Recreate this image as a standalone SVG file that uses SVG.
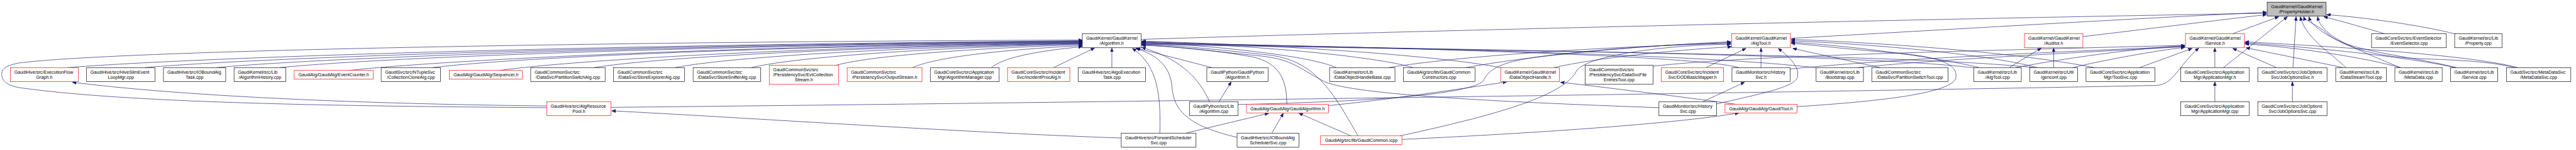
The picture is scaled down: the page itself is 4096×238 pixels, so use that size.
<svg xmlns="http://www.w3.org/2000/svg" width="4096" height="238" viewBox="0 0 4096 238">
<style>
.n rect{fill:#fff;stroke:#000;stroke-width:1.2}
.r rect{stroke:#f00}
.g rect{fill:#bfbfbf}
text{font-family:"Liberation Sans",Arial,Helvetica,sans-serif;font-size:13px;fill:#000}
.c{text-anchor:middle}
.e path{fill:none;stroke:#191970;stroke-width:1.2;marker-end:url(#a)}
</style>
<defs>
<marker id="a" markerUnits="userSpaceOnUse" markerWidth="12" markerHeight="10" refX="11" refY="4.5" orient="auto"><path d="M0,0 L11,4.5 L0,9 z" fill="#191970" stroke="#191970" stroke-width="1"/></marker>
</defs>
<rect width="4096" height="238" fill="#fff"/>
<g transform="scale(0.553)">
<g id="edges" class="e">
<path d="M194,194 C544,166 1653,129 3112,117"/>
<path d="M415,194 C739,166 1764,130 3112,118"/>
<path d="M622,194 C921,166 1867,131 3112,119"/>
<path d="M804,194 C1081,166 1958,132 3112,120"/>
<path d="M1005,202 C1258,174 2058,133 3112,121"/>
<path d="M1244,194 C1468,166 2178,134 3112,122"/>
<path d="M1437,202 C1638,174 2274,135 3112,123"/>
<path d="M1708,194 C1876,166 2410,136 3112,124"/>
<path d="M1941,194 C2082,166 2526,137 3112,125"/>
<path d="M2160,194 C2274,166 2636,138 3112,126"/>
<path d="M2405,187 C2495,162 2761,140 3112,128"/>
<path d="M2624,194 C2683,166 2868,143 3112,131"/>
<path d="M2851,194 C2882,166 2981,146 3112,134"/>
<path d="M3029,194 L3147,138"/>
<path d="M1572,309 C1100,305 400,300 60,252 C10,245 5,225 5,213 C5,198 15,187 60,180 C400,140 2000,118 3112,115"/>
<path d="M1572,304 C1200,300 600,285 208,236"/>
<path d="M3224,396 C2800,382 2100,335 1759,318"/>
<path d="M1757,308 C3000,296 5400,262 6200,245 C6250,243 6262,190 6322,138"/>
<path d="M3197,194 L3197,138"/>
<path d="M3485,194 L3268,138"/>
<path d="M3505,292 L3540,235"/>
<path d="M3478,292 C3450,230 3400,170 3283,136"/>
<path d="M3335,382 C3337,290 3335,190 3256,139"/>
<path d="M3557,394 C3420,362 3375,320 3370,250 C3365,185 3320,155 3266,139"/>
<path d="M3410,382 L3648,325"/>
<path d="M3657,382 L3690,325"/>
<path d="M3885,390 L3735,325"/>
<path d="M3700,299 C3700,230 3680,180 3600,163 C3500,145 3380,133 3283,130"/>
<path d="M3905,390 C3840,280 3790,175 3650,158 C3500,142 3380,130 3283,126"/>
<path d="M4770,309 C4300,292 3900,272 3810,235 C3740,200 3720,170 3620,160 C3480,146 3380,134 3283,128"/>
<path d="M3842,194 C3780,165 3550,135 3283,121"/>
<path d="M4063,194 C3950,160 3600,130 3283,119"/>
<path d="M4325,196 C4150,160 3700,130 3283,118"/>
<path d="M5000,194 C4900,165 4300,142 3283,122"/>
<path d="M5226,195 C4950,162 4300,142 3283,123"/>
<path d="M5688,196 C5400,160 4600,148 3283,125"/>
<path d="M5850,194 C5500,158 4600,150 3283,127"/>
<path d="M3992,194 C4200,160 4600,135 4977,124"/>
<path d="M4215,194 C4400,160 4700,132 4977,120"/>
<path d="M4467,194 C4600,165 4800,145 4979,134"/>
<path d="M4025,390 C4300,330 4480,280 4530,210 C4540,160 4800,128 4977,127"/>
<path d="M3560,300 C3900,292 4220,275 4265,232 C4280,200 4310,178 4430,162 C4600,140 4800,128 4977,122"/>
<path d="M3820,303 C4000,285 4200,255 4332,235"/>
<path d="M4990,299 C4870,282 4650,255 4487,236"/>
<path d="M4031,400 C4400,383 4820,355 5000,324"/>
<path d="M4936,298 C5060,270 5160,250 5168,222 C5176,190 5140,160 5113,139"/>
<path d="M4896,292 L5016,236"/>
<path d="M5063.5,194 L5063.5,138"/>
<path d="M4905,194 L5020,139"/>
<path d="M5406,194 L5155,139"/>
<path d="M5167,306 C5420,290 5630,265 5624,218 C5628,178 5550,160 5450,152 C5300,140 5200,128 5150,124"/>
<path d="M5692,194 C5550,160 5300,130 5150,121"/>
<path d="M5858,194 C5700,152 5350,125 5150,117"/>
<path d="M6022,194 C5800,150 5400,122 5150,113"/>
<path d="M5777,194 L5869,138"/>
<path d="M5905,194 L5905,138"/>
<path d="M5795,194 C5950,165 6150,138 6282,131"/>
<path d="M5960,194 C6050,172 6200,145 6282,136"/>
<path d="M5147,198 C5450,168 5900,150 6282,133"/>
<path d="M5340,194 C5600,168 6000,150 6282,134"/>
<path d="M4753,190 C5000,162 5500,150 6282,130"/>
<path d="M6152,194 L6303,139"/>
<path d="M6368.5,194 L6368.5,138"/>
<path d="M6546,194 L6420,139"/>
<path d="M6738,194 L6458,137"/>
<path d="M6902,194 C6800,165 6600,135 6455,126"/>
<path d="M7062,194 C6900,160 6650,136 6455,123"/>
<path d="M7240,194 C7100,158 6750,136 6455,120"/>
<path d="M3281,113 C4000,90 5500,55 6517,38"/>
<path d="M5148,110 C5600,85 6100,55 6517,35"/>
<path d="M5989,105 C6200,80 6400,55 6517,42"/>
<path d="M6419,97 L6552,48"/>
<path d="M6393,194 L6577,48"/>
<path d="M6593,194 L6602,48"/>
<path d="M6745,194 C6700,150 6630,110 6614,48"/>
<path d="M6902,194 C6820,160 6720,120 6690,90 C6670,70 6666,60 6664,48"/>
<path d="M7063,194 C6950,165 6790,150 6720,115 C6670,90 6645,70 6639,48"/>
<path d="M7232,194 C7150,174 7050,172 6950,168 C6820,162 6730,130 6690,95 C6665,72 6628,60 6624,48"/>
<path d="M6857,97 C6800,80 6730,60 6682,48"/>
<path d="M7062,98 C6960,72 6800,50 6690,42"/>
<path d="M6368.5,292 L6368.5,235"/>
<path d="M6591.5,292 L6591.5,235"/>
</g>
<g id="n_ph" class="n g"><rect x="6519" y="6" width="169" height="40"/><text x="6530" y="23">GaudiKernel/GaudiKernel</text><text class="c" x="6603.5" y="38">/PropertyHolder.h</text></g>
<g id="n_alg" class="n"><rect x="3112" y="97" width="169" height="40"/><text x="3123" y="114">GaudiKernel/GaudiKernel</text><text class="c" x="3196.5" y="129">/Algorithm.h</text></g>
<g id="n_algtool" class="n r"><rect x="4979" y="97" width="169" height="40"/><text x="4990" y="114">GaudiKernel/GaudiKernel</text><text class="c" x="5063.5" y="129">/AlgTool.h</text></g>
<g id="n_auditor" class="n r"><rect x="5821" y="97" width="168" height="40"/><text x="5832" y="114">GaudiKernel/GaudiKernel</text><text class="c" x="5905" y="129">/Auditor.h</text></g>
<g id="n_service" class="n r"><rect x="6284" y="97" width="169" height="40"/><text x="6295" y="114">GaudiKernel/GaudiKernel</text><text class="c" x="6368.5" y="129">/Service.h</text></g>
<g id="n_evsel" class="n"><rect x="6819" y="97" width="215" height="40"/><text x="6830" y="114">GaudiCoreSvc/src/EventSelector</text><text class="c" x="6926.5" y="129">/EventSelector.cpp</text></g>
<g id="n_prop" class="n"><rect x="7058" y="97" width="136" height="40"/><text x="7069" y="114">GaudiKernel/src/Lib</text><text class="c" x="7126" y="129">/Property.cpp</text></g>
<g id="n_efg" class="n r"><rect x="30" y="194" width="195" height="40"/><text x="41" y="211">GaudiHive/src/ExecutionFlow</text><text class="c" x="127.5" y="226">Graph.h</text></g>
<g id="n_hiveslim" class="n"><rect x="249" y="194" width="197" height="40"/><text x="260" y="211">GaudiHive/src/HiveSlimEvent</text><text class="c" x="347.5" y="226">LoopMgr.cpp</text></g>
<g id="n_iobtask" class="n"><rect x="470" y="194" width="179" height="40"/><text x="481" y="211">GaudiHive/src/IOBoundAlg</text><text class="c" x="559.5" y="226">Task.cpp</text></g>
<g id="n_alghist" class="n"><rect x="673" y="194" width="149" height="40"/><text x="684" y="211">GaudiKernel/src/Lib</text><text class="c" x="747.5" y="226">/AlgorithmHistory.cpp</text></g>
<g id="n_evcount" class="n r"><rect x="846" y="202" width="227" height="25"/><text class="c" x="959.5" y="219">GaudiAlg/GaudiAlg/EventCounter.h</text></g>
<g id="n_collclone" class="n"><rect x="1096" y="194" width="171" height="40"/><text x="1107" y="211">GaudiSvc/src/NTupleSvc</text><text class="c" x="1181.5" y="226">/CollectionCloneAlg.cpp</text></g>
<g id="n_sequencer" class="n r"><rect x="1292" y="202" width="210" height="25"/><text class="c" x="1397" y="219">GaudiAlg/GaudiAlg/Sequencer.h</text></g>
<g id="n_psalg" class="n"><rect x="1526" y="194" width="214" height="40"/><text x="1537" y="211">GaudiCommonSvc/src</text><text class="c" x="1633" y="226">/DataSvc/PartitionSwitchAlg.cpp</text></g>
<g id="n_sealg" class="n"><rect x="1764" y="194" width="204" height="40"/><text x="1775" y="211">GaudiCommonSvc/src</text><text class="c" x="1866" y="226">/DataSvc/StoreExplorerAlg.cpp</text></g>
<g id="n_ssalg" class="n"><rect x="1993" y="194" width="194" height="40"/><text x="2004" y="211">GaudiCommonSvc/src</text><text class="c" x="2090" y="226">/DataSvc/StoreSnifferAlg.cpp</text></g>
<g id="n_evtcoll" class="n r"><rect x="2212" y="187" width="199" height="55"/><text x="2223" y="204">GaudiCommonSvc/src</text><text x="2223" y="219">/PersistencySvc/EvtCollection</text><text class="c" x="2311.5" y="234">Stream.h</text></g>
<g id="n_outstream" class="n r"><rect x="2436" y="194" width="215" height="40"/><text x="2447" y="211">GaudiCommonSvc/src</text><text class="c" x="2543.5" y="226">/PersistencySvc/OutputStream.h</text></g>
<g id="n_algmgr" class="n"><rect x="2675" y="194" width="198" height="40"/><text x="2686" y="211">GaudiCoreSvc/src/Application</text><text class="c" x="2774" y="226">Mgr/AlgorithmManager.cpp</text></g>
<g id="n_incproc" class="n r"><rect x="2897" y="194" width="179" height="40"/><text x="2908" y="211">GaudiCoreSvc/src/Incident</text><text class="c" x="2986.5" y="226">Svc/IncidentProcAlg.h</text></g>
<g id="n_algoexec" class="n"><rect x="3100" y="194" width="194" height="40"/><text x="3111" y="211">GaudiHive/src/AlgoExecution</text><text class="c" x="3197" y="226">Task.cpp</text></g>
<g id="n_pyalgh" class="n"><rect x="3470" y="194" width="176" height="40"/><text x="3481" y="211">GaudiPython/GaudiPython</text><text class="c" x="3558" y="226">/Algorithm.h</text></g>
<g id="n_dohb" class="n"><rect x="3823" y="194" width="188" height="40"/><text x="3834" y="211">GaudiKernel/src/Lib</text><text class="c" x="3917" y="226">/DataObjectHandleBase.cpp</text></g>
<g id="n_gcc" class="n"><rect x="4035" y="194" width="206" height="40"/><text x="4046" y="211">GaudiAlg/src/lib/GaudiCommon</text><text class="c" x="4138" y="226">Constructors.cpp</text></g>
<g id="n_doh" class="n r"><rect x="4315" y="194" width="169" height="40"/><text x="4326" y="211">GaudiKernel/GaudiKernel</text><text class="c" x="4399.5" y="226">/DataObjectHandle.h</text></g>
<g id="n_dsfet" class="n"><rect x="4558" y="187" width="195" height="55"/><text x="4569" y="204">GaudiCommonSvc/src</text><text x="4569" y="219">/PersistencySvc/DataSvcFile</text><text class="c" x="4655.5" y="234">EntriesTool.cpp</text></g>
<g id="n_dodmap" class="n r"><rect x="4777" y="194" width="179" height="40"/><text x="4788" y="211">GaudiCoreSvc/src/Incident</text><text class="c" x="4866.5" y="226">Svc/DODBasicMapper.h</text></g>
<g id="n_histh" class="n"><rect x="4980" y="194" width="167" height="40"/><text x="4991" y="211">GaudiMonitor/src/History</text><text class="c" x="5063.5" y="226">Svc.h</text></g>
<g id="n_boot" class="n"><rect x="5222" y="194" width="136" height="40"/><text x="5233" y="211">GaudiKernel/src/Lib</text><text class="c" x="5290" y="226">/Bootstrap.cpp</text></g>
<g id="n_pstool" class="n"><rect x="5382" y="194" width="219" height="40"/><text x="5393" y="211">GaudiCommonSvc/src</text><text class="c" x="5491.5" y="226">/DataSvc/PartitionSwitchTool.cpp</text></g>
<g id="n_algtoolcpp" class="n"><rect x="5675" y="194" width="137" height="40"/><text x="5686" y="211">GaudiKernel/src/Lib</text><text class="c" x="5743.5" y="226">/AlgTool.cpp</text></g>
<g id="n_genconf" class="n"><rect x="5836" y="194" width="138" height="40"/><text x="5847" y="211">GaudiKernel/src/Util</text><text class="c" x="5905" y="226">/genconf.cpp</text></g>
<g id="n_toolsvc" class="n"><rect x="5998" y="194" width="198" height="40"/><text x="6009" y="211">GaudiCoreSvc/src/Application</text><text class="c" x="6097" y="226">Mgr/ToolSvc.cpp</text></g>
<g id="n_appmgrh" class="n"><rect x="6270" y="194" width="197" height="40"/><text x="6281" y="211">GaudiCoreSvc/src/Application</text><text class="c" x="6368.5" y="226">Mgr/ApplicationMgr.h</text></g>
<g id="n_josh" class="n"><rect x="6492" y="194" width="199" height="40"/><text x="6503" y="211">GaudiCoreSvc/src/JobOptions</text><text class="c" x="6591.5" y="226">Svc/JobOptionsSvc.h</text></g>
<g id="n_dstool" class="n"><rect x="6716" y="194" width="146" height="40"/><text x="6727" y="211">GaudiKernel/src/Lib</text><text class="c" x="6789" y="226">/DataStreamTool.cpp</text></g>
<g id="n_metadata" class="n"><rect x="6886" y="194" width="136" height="40"/><text x="6897" y="211">GaudiKernel/src/Lib</text><text class="c" x="6954" y="226">/MetaData.cpp</text></g>
<g id="n_servicecpp" class="n"><rect x="7046" y="194" width="136" height="40"/><text x="7057" y="211">GaudiKernel/src/Lib</text><text class="c" x="7114" y="226">/Service.cpp</text></g>
<g id="n_mdsvc" class="n"><rect x="7207" y="194" width="185" height="40"/><text x="7218" y="211">GaudiSvc/src/MetaDataSvc</text><text class="c" x="7299.5" y="226">/MetaDataSvc.cpp</text></g>
<g id="n_respool" class="n r"><rect x="1572" y="292" width="185" height="40"/><text x="1583" y="309">GaudiHive/src/AlgResource</text><text class="c" x="1664.5" y="324">Pool.h</text></g>
<g id="n_pyalgcpp" class="n"><rect x="3420" y="292" width="140" height="40"/><text x="3431" y="309">GaudiPython/src/Lib</text><text class="c" x="3490" y="324">/Algorithm.cpp</text></g>
<g id="n_gaudialg" class="n r"><rect x="3584" y="299" width="236" height="25"/><text class="c" x="3702" y="316">GaudiAlg/GaudiAlg/GaudiAlgorithm.h</text></g>
<g id="n_histcpp" class="n"><rect x="4770" y="292" width="166" height="40"/><text x="4781" y="309">GaudiMonitor/src/History</text><text class="c" x="4853" y="324">Svc.cpp</text></g>
<g id="n_gauditool" class="n r"><rect x="4960" y="299" width="207" height="25"/><text class="c" x="5063.5" y="316">GaudiAlg/GaudiAlg/GaudiTool.h</text></g>
<g id="n_appmgrcpp" class="n"><rect x="6270" y="292" width="197" height="40"/><text x="6281" y="309">GaudiCoreSvc/src/Application</text><text class="c" x="6368.5" y="324">Mgr/ApplicationMgr.cpp</text></g>
<g id="n_joscpp" class="n"><rect x="6492" y="292" width="199" height="40"/><text x="6503" y="309">GaudiCoreSvc/src/JobOptions</text><text class="c" x="6591.5" y="324">Svc/JobOptionsSvc.cpp</text></g>
<g id="n_fwdsched" class="n"><rect x="3224" y="382" width="215" height="40"/><text x="3235" y="399">GaudiHive/src/ForwardScheduler</text><text class="c" x="3331.5" y="414">Svc.cpp</text></g>
<g id="n_iobsched" class="n"><rect x="3557" y="382" width="178" height="40"/><text x="3568" y="399">GaudiHive/src/IOBoundAlg</text><text class="c" x="3646" y="414">SchedulerSvc.cpp</text></g>
<g id="n_gcicpp" class="n r"><rect x="3797" y="390" width="234" height="25"/><text class="c" x="3914" y="407">GaudiAlg/src/lib/GaudiCommon.icpp</text></g>
</g>
</svg>
